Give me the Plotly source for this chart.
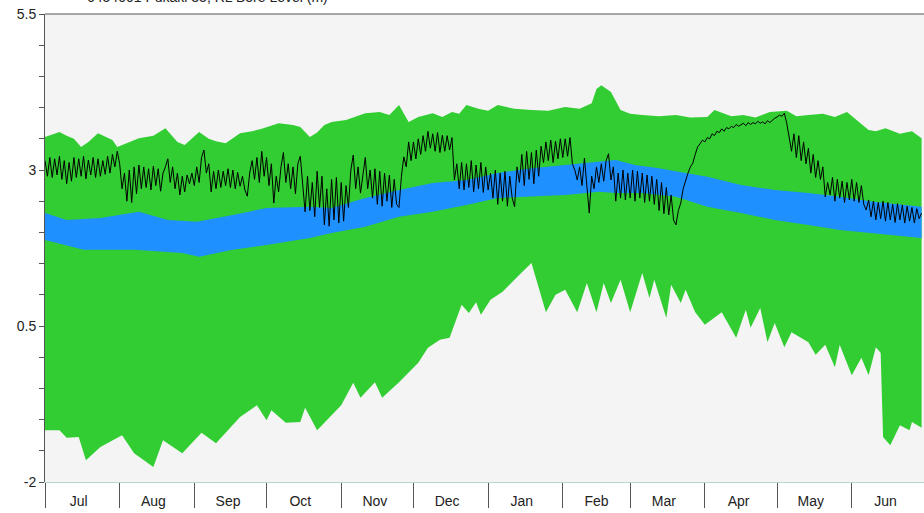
import pandas as pd
import plotly.graph_objects as go

START = "2022-07-01"
TITLE = "6454001 Pukaki 35, RL Bore Level (m)"
MONTH_LABELS = ["Jul", "Aug", "Sep", "Oct", "Nov", "Dec", "Jan", "Feb", "Mar", "Apr", "May", "Jun"]
Y_TICKS = [-2, 0.5, 3, 5.5]

# Historic maximum (upper edge of green band): day offset from 1 Jul, level (m)
max_days = [0, 6, 9, 12, 15, 18, 22, 28, 30, 35, 39, 45, 50, 55, 58, 64, 68, 71, 75, 81, 86, 90, 93, 97,
            103, 106, 110, 113, 116, 119, 125, 129, 133, 139, 143, 147, 151, 155, 161, 165, 169, 172,
            175, 180, 184, 188, 195, 202, 209, 216, 222, 227, 229, 231, 235, 239, 243, 248, 255, 262,
            268, 275, 278, 285, 290, 295, 301, 308, 312, 317, 323, 328, 333, 337, 342, 345, 349, 355,
            360, 364]
max_vals = [3.53, 3.61, 3.55, 3.50, 3.37, 3.45, 3.59, 3.48, 3.37, 3.45, 3.51, 3.55, 3.67, 3.45, 3.40,
            3.61, 3.50, 3.46, 3.43, 3.59, 3.62, 3.66, 3.70, 3.75, 3.72, 3.69, 3.53, 3.60, 3.72, 3.77,
            3.80, 3.85, 3.91, 3.93, 3.88, 4.04, 3.77, 3.85, 3.91, 3.85, 3.93, 3.90, 4.04, 3.98, 3.95,
            4.04, 3.98, 3.96, 3.95, 4.01, 3.98, 4.07, 4.30, 4.36, 4.25, 3.96, 3.90, 3.88, 3.86, 3.88,
            3.84, 3.85, 3.96, 3.86, 3.88, 3.84, 3.93, 3.95, 3.86, 3.88, 3.90, 3.85, 3.93, 3.80, 3.64,
            3.62, 3.67, 3.58, 3.62, 3.51]

# Historic minimum (lower edge of green band)
min_days = [0, 6, 9, 14, 17, 23, 32, 37, 45, 49, 57, 65, 71, 81, 88, 92, 94, 100, 106, 108, 113, 123,
            128, 131, 137, 140, 147, 155, 159, 164, 168, 173, 176, 179, 181, 185, 190, 197, 202, 208,
            212, 216, 221, 225, 229, 232, 235, 239, 243, 248, 251, 253, 258, 260, 264, 266, 270, 274,
            281, 287, 291, 293, 297, 300, 303, 307, 310, 317, 320, 324, 328, 330, 335, 339, 342, 345,
            347, 348, 351, 355, 359, 360, 364]
min_vals = [-1.17, -1.17, -1.29, -1.28, -1.65, -1.44, -1.25, -1.54, -1.76, -1.33, -1.54, -1.21, -1.38,
            -0.96, -0.77, -1.01, -0.85, -1.05, -1.04, -0.81, -1.17, -0.77, -0.41, -0.65, -0.40, -0.65,
            -0.40, -0.09, 0.15, 0.28, 0.31, 0.84, 0.71, 0.88, 0.68, 0.92, 1.05, 1.32, 1.51, 0.72, 1.00,
            1.08, 0.72, 1.19, 0.72, 1.19, 0.87, 1.24, 0.72, 1.35, 0.95, 1.24, 0.63, 1.16, 0.87, 1.08,
            0.72, 0.52, 0.72, 0.31, 0.76, 0.47, 0.79, 0.24, 0.55, 0.16, 0.40, 0.24, 0.04, 0.20, -0.16,
            0.20, -0.29, -0.01, -0.29, 0.16, 0.07, -1.28, -1.41, -1.09, -1.17, -1.04, -1.13]

# Percentile band (blue)
band_hi_days = [0, 9, 23, 39, 51, 63, 78, 92, 110, 119, 133, 147, 161, 175, 188, 202, 216, 230, 237,
                245, 255, 266, 275, 289, 303, 317, 330, 344, 364]
band_hi_vals = [2.31, 2.20, 2.23, 2.33, 2.20, 2.17, 2.28, 2.39, 2.41, 2.39, 2.55, 2.68, 2.79, 2.84, 2.95,
                3.03, 3.08, 3.13, 3.16, 3.08, 3.03, 2.95, 2.89, 2.76, 2.68, 2.63, 2.57, 2.49, 2.41]
band_lo_days = [0, 16, 37, 57, 64, 78, 92, 110, 119, 133, 147, 161, 175, 188, 202, 216, 230, 237, 248,
                262, 275, 289, 303, 317, 330, 344, 364]
band_lo_vals = [1.88, 1.72, 1.72, 1.67, 1.61, 1.72, 1.80, 1.91, 1.99, 2.09, 2.25, 2.33, 2.44, 2.55, 2.57,
                2.60, 2.65, 2.63, 2.63, 2.57, 2.41, 2.31, 2.20, 2.12, 2.04, 1.99, 1.91]

# Current year daily level (black line), Jul..Jun
current_level = [
    3.15, 2.90, 3.20, 2.88, 3.18, 2.92, 3.22, 2.85, 3.15, 2.78, 3.12, 2.82, 3.20, 2.88, 3.18, 2.90,
    3.22, 2.86, 3.16, 2.92, 3.20, 2.88, 3.18, 2.90, 3.15, 2.93, 3.22, 2.95, 3.25, 3.05, 3.30,
    3.10, 2.70, 2.95, 2.50, 3.00, 2.48, 3.05, 2.62, 3.08, 2.70, 3.05, 2.72, 3.02, 2.68, 3.06, 2.75,
    3.02, 2.66, 2.95, 3.05, 3.18, 2.80, 3.05, 2.70, 2.95, 2.60, 2.90, 2.65, 2.92, 2.78, 2.95,
    2.75, 3.05, 2.80, 3.20, 3.32, 2.95, 3.10, 2.65, 2.98, 2.70, 3.00, 2.72, 2.98, 2.75, 3.02,
    2.72, 3.00, 2.70, 2.96, 2.74, 2.90, 2.68, 2.58, 2.95, 3.15, 2.85, 3.20, 2.80, 3.30, 2.90,
    3.20, 2.75, 3.10, 2.47, 2.90, 2.65, 3.05, 3.28, 2.80, 3.10, 2.70, 3.05, 2.62, 3.10, 3.22, 2.75,
    2.33, 2.90, 2.35, 2.80, 2.25, 2.98, 2.40, 2.90, 2.12, 2.70, 2.10, 2.85, 2.20, 2.88, 2.15,
    2.80, 2.18, 2.75, 2.40, 3.00, 3.24, 2.70, 3.05, 2.63, 2.95, 3.20, 2.70, 3.00, 2.55, 3.02,
    2.45, 2.98, 2.42, 2.95, 2.50, 2.92, 2.40, 2.85, 2.45, 2.40, 2.90, 3.21, 3.05, 3.45, 3.15,
    3.45, 3.18, 3.50, 3.25, 3.55, 3.30, 3.62, 3.35, 3.58, 3.30, 3.60, 3.28, 3.56, 3.30, 3.55, 3.32,
    3.52, 2.84, 3.10, 2.70, 3.12, 2.68, 3.10, 2.72, 3.15, 2.65, 3.08, 2.70, 3.12, 2.64, 3.05,
    2.68, 2.95, 2.55, 3.00, 2.45, 2.95, 2.50, 2.98, 2.42, 2.90, 2.55, 2.41, 3.05, 2.80, 3.25, 2.75,
    3.30, 2.85, 3.28, 2.78, 3.32, 2.90, 3.38, 3.12, 3.45, 3.15, 3.48, 3.12, 3.46, 3.18, 3.50,
    3.20, 3.50, 3.22, 3.52, 3.10, 3.00, 2.84, 3.05, 2.75, 3.19, 2.80, 2.31, 2.90, 2.70, 3.05,
    2.80, 3.10, 2.82, 3.15, 3.26, 2.84, 3.05, 2.50, 2.95, 2.55, 3.00, 2.52, 2.95,
    2.55, 3.00, 2.50, 2.98, 2.55, 2.95, 2.48, 2.92, 2.50, 2.90, 2.45, 2.85, 2.35, 2.80, 2.30, 2.72,
    2.28, 2.60, 2.20, 2.12, 2.35, 2.47, 2.70, 2.84, 2.95, 3.05, 3.11, 3.25, 3.37, 3.42, 3.48,
    3.45, 3.52, 3.50, 3.58, 3.55, 3.62, 3.60, 3.66, 3.62, 3.68, 3.66, 3.70, 3.68, 3.73, 3.70,
    3.72, 3.75, 3.71, 3.76, 3.73, 3.76, 3.74, 3.78, 3.75, 3.77, 3.74, 3.79, 3.76, 3.80, 3.83,
    3.85, 3.88, 3.86, 3.91, 3.75, 3.55, 3.30, 3.58, 3.20, 3.55, 3.15, 3.45, 3.10, 3.35, 2.95, 3.25,
    2.88, 3.15, 2.85, 3.05, 2.57, 2.80, 2.60, 2.88, 2.50, 2.85, 2.55, 2.82, 2.48, 2.80, 2.52,
    2.85, 2.50, 2.80, 2.48, 2.75, 2.45, 2.36, 2.52, 2.25, 2.50, 2.20, 2.48, 2.22, 2.50, 2.18,
    2.48, 2.20, 2.45, 2.16, 2.46, 2.20, 2.44, 2.15, 2.42, 2.18, 2.40, 2.15, 2.38, 2.22, 2.31,
]

start = pd.Timestamp(START)


def to_dates(days):
    return list(start + pd.to_timedelta(days, unit="D"))


GREEN = "#32CD32"
BLUE = "#1E90FF"

fig = go.Figure()

# green envelope polygon (max forward, min backward)
fig.add_trace(go.Scatter(
    x=to_dates(max_days) + to_dates(min_days)[::-1],
    y=max_vals + min_vals[::-1],
    fill="toself", fillcolor=GREEN, mode="lines", line=dict(width=0, color=GREEN),
    hoverinfo="skip", showlegend=False))

# blue percentile band
fig.add_trace(go.Scatter(
    x=to_dates(band_hi_days) + to_dates(band_lo_days)[::-1],
    y=band_hi_vals + band_lo_vals[::-1],
    fill="toself", fillcolor=BLUE, mode="lines", line=dict(width=0, color=BLUE),
    hoverinfo="skip", showlegend=False))

# current level
fig.add_trace(go.Scatter(
    x=to_dates(list(range(len(current_level)))), y=current_level,
    mode="lines", line=dict(color="#000000", width=1), showlegend=False))

mid_months = list(pd.date_range(START, periods=12, freq="MS") + pd.Timedelta(days=14))

fig.update_layout(
    width=924, height=513,
    margin=dict(l=45, r=0, t=14, b=31),
    paper_bgcolor="#ffffff", plot_bgcolor="#f4f4f4",
    font=dict(family="Liberation Sans, Arial, sans-serif", size=14, color="#222222"),
    showlegend=False,
    xaxis=dict(
        type="date", range=[START, "2023-07-01"],
        tickvals=mid_months, ticktext=MONTH_LABELS,
        ticks="outside", ticklen=6, tickcolor="rgba(0,0,0,0)",
        showgrid=False, zeroline=False,
        showline=True, linecolor="#b9d6ce", linewidth=1,
        tickfont=dict(size=14, color="#222222"),
        minor=dict(ticks="outside", ticklen=25, tickcolor="#555555", tickwidth=1,
                   dtick="M1", tick0=START, showgrid=False),
    ),
    yaxis=dict(
        range=[-2, 5.5], tickvals=Y_TICKS, ticktext=["-2", "0.5", "3", "5.5"],
        ticks="outside", ticklen=5, tickcolor="#555555",
        showgrid=False, zeroline=False,
        showline=True, linecolor="#555555", linewidth=1,
        tickfont=dict(size=14, color="#222222"),
        minor=dict(ticks="outside", ticklen=5, tickcolor="#555555", dtick=0.5, tick0=-2, showgrid=False),
    ),
    shapes=[dict(type="line", xref="paper", yref="paper", x0=0, x1=1, y0=1, y1=1,
                 line=dict(color="#555555", width=1))],
    annotations=[dict(text=TITLE, xref="paper", yref="paper", x=(207 - 45) / 879, y=1.037,
                      xanchor="center", yanchor="middle", showarrow=False,
                      font=dict(size=14, color="#222222"))],
)

# remove the page's default 8px body margin so the figure sits at the window's corner
fig.write_html("out.html", config={"displayModeBar": False},
               post_script="document.body.style.margin='0';")
